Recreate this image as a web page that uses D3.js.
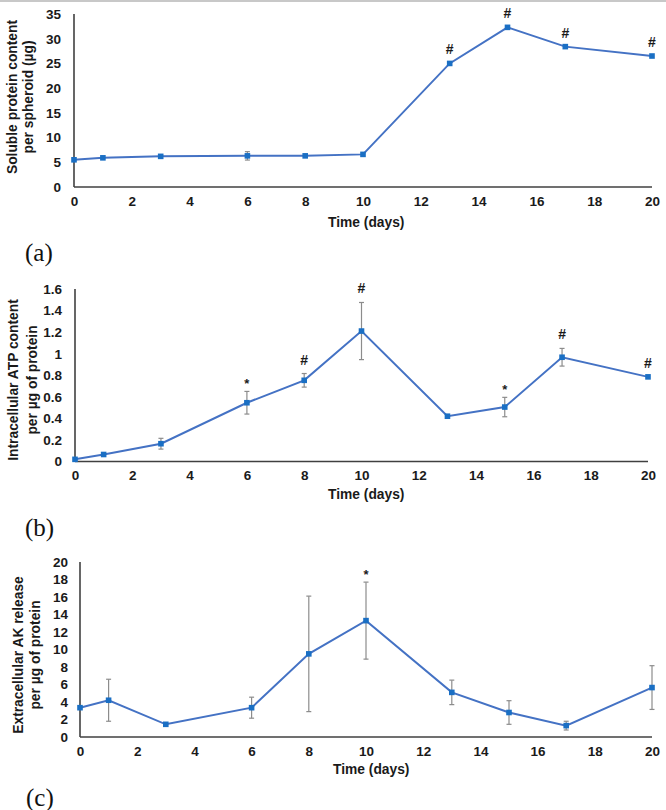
<!DOCTYPE html>
<html>
<head>
<meta charset="utf-8">
<script src="https://cdn.jsdelivr.net/npm/d3@7"></script>
<style>
  html, body { margin: 0; padding: 0; background: #fff; }
  svg { display: block; }
</style>
</head>
<body>
<svg id="chart" width="666" height="810"></svg>
<script>
// ---- data ----
const days = [0, 1, 3, 6, 8, 10, 13, 15, 17, 20];
const xTicks = [0, 2, 4, 6, 8, 10, 12, 14, 16, 18, 20];

const proteinMean = [5.5, 5.9, 6.2, 6.3, 6.3, 6.6, 25.0, 32.3, 28.4, 26.5];
const proteinErr  = [0, 0, 0, 0.85, 0, 0, 0, 0, 0, 0];
const proteinSig  = ["", "", "", "", "", "", "#", "#", "#", "#"];
const proteinTicks = [0, 5, 10, 15, 20, 25, 30, 35];

const atpMean = [0.02, 0.065, 0.165, 0.545, 0.753, 1.21, 0.42, 0.505, 0.967, 0.785];
const atpErr  = [0, 0, 0.05, 0.105, 0.063, 0.265, 0, 0.09, 0.082, 0];
const atpSig  = ["", "", "", "*", "#", "#", "", "*", "#", "#"];
const atpTicks = [0, 0.2, 0.4, 0.6, 0.8, 1, 1.2, 1.4, 1.6];

const akMean = [3.35, 4.2, 1.45, 3.35, 9.5, 13.3, 5.1, 2.8, 1.3, 5.65];
const akErr  = [0, 2.4, 0, 1.2, 6.6, 4.4, 1.4, 1.35, 0.5, 2.5];
const akSig  = ["", "", "", "", "", "*", "", "", "", ""];
const akTicks = [0, 2, 4, 6, 8, 10, 12, 14, 16, 18, 20];

const SANS = '"Liberation Sans", Arial, sans-serif';
const SERIF = '"Liberation Serif", "Times New Roman", serif';

const svg = d3.select("#chart");

// thin grey frame line at the top
svg.append("line").attr("x1", 0).attr("x2", 666).attr("y1", 1).attr("y2", 1)
  .attr("stroke", "#c8c8c8").attr("stroke-width", 2);

const panels = [
  { mean: proteinMean, err: proteinErr, sig: proteinSig, ticks: proteinTicks, ymax: 35,
    xr: [74, 652], yr: [187, 14], title: ["Soluble protein content", "per spheroid (µg)"],
    tx: [12, 28], tcy: 97, timeX: 328, timeY: 222, letter: "(a)", lx: 25, ly: 252 },
  { mean: atpMean, err: atpErr, sig: atpSig, ticks: atpTicks, ymax: 1.6,
    xr: [75, 648], yr: [461.5, 289], title: ["Intracellular ATP content", "per µg of protein"],
    tx: [13, 32], tcy: 380, timeX: 328, timeY: 494, letter: "(b)", lx: 25, ly: 527 },
  { mean: akMean, err: akErr, sig: akSig, ticks: akTicks, ymax: 20,
    xr: [80, 652], yr: [737, 562], title: ["Extracellular AK release", "per µg of protein"],
    tx: [18, 35], tcy: 655, timeX: 333, timeY: 769, letter: "(c)", lx: 26, ly: 797 }
];

const axisColor = "#404040";
const lineColor = "#4472C4";
const markColor = "#1a6fc4";
const errColor = "#8c8c8c";

panels.forEach(p => {
  const x = d3.scaleLinear().domain([0, 20]).range(p.xr);
  const y = d3.scaleLinear().domain([0, p.ymax]).range(p.yr);
  const g = svg.append("g");

  // x axis
  const xa = g.append("g").attr("transform", `translate(0,${p.yr[0]})`)
    .call(d3.axisBottom(x).tickValues(xTicks).tickSize(0).tickPadding(9).tickFormat(d3.format("d")));
  xa.select(".domain").attr("stroke", axisColor).attr("stroke-width", 1.6)
    .attr("d", `M${p.xr[0]},0H${p.xr[1]}`);
  xa.selectAll("text").style("font-size", "13.5px").style("font-weight", "bold").attr("fill", "#1a1a1a")
    .style("font-family", SANS);

  // y axis
  const ya = g.append("g").attr("transform", `translate(${p.xr[0]},0)`)
    .call(d3.axisLeft(y).tickValues(p.ticks).tickSize(0).tickPadding(p.xr[0] === 80 ? 12 : 13)
      .tickFormat(d => String(+d.toFixed(2))));
  ya.select(".domain").attr("stroke", axisColor).attr("stroke-width", 1.6)
    .attr("d", `M0,${p.yr[1]}V${p.yr[0]}`);
  ya.selectAll("text").style("font-size", "13.5px").style("font-weight", "bold").attr("fill", "#1a1a1a")
    .style("font-family", SANS);

  // y title
  p.title.forEach((t, i) => {
    g.append("text")
      .attr("transform", `translate(${p.tx[i]},${p.tcy}) rotate(-90)`)
      .attr("text-anchor", "middle").attr("dominant-baseline", "central")
      .style("font-family", SANS).style("font-size", "13.8px").style("font-weight", "bold")
      .attr("fill", "#1a1a1a")
      .text(t);
  });

  // x title
  g.append("text").attr("x", p.timeX).attr("y", p.timeY)
    .attr("dominant-baseline", "central")
    .style("font-family", SANS).style("font-size", "13.8px").style("font-weight", "bold")
    .attr("fill", "#1a1a1a")
    .text("Time (days)");

  // panel letter
  g.append("text").attr("x", p.lx).attr("y", p.ly)
    .attr("dominant-baseline", "central")
    .style("font-family", SERIF).style("font-size", "25px")
    .attr("fill", "#111")
    .text(p.letter);

  const pts = days.map((d, i) => ({ d, m: p.mean[i], e: p.err[i], s: p.sig[i] }));

  // error bars
  const eb = g.append("g").attr("stroke", errColor).attr("stroke-width", 1.2);
  pts.filter(q => q.e > 0).forEach(q => {
    const cx = x(q.d), y1 = y(q.m + q.e), y0 = y(q.m - q.e);
    eb.append("line").attr("x1", cx).attr("x2", cx).attr("y1", y1).attr("y2", y0);
    eb.append("line").attr("x1", cx - 2.5).attr("x2", cx + 2.5).attr("y1", y1).attr("y2", y1);
    eb.append("line").attr("x1", cx - 2.5).attr("x2", cx + 2.5).attr("y1", y0).attr("y2", y0);
  });

  // line
  g.append("path").datum(pts)
    .attr("fill", "none").attr("stroke", lineColor).attr("stroke-width", 2)
    .attr("d", d3.line().x(q => x(q.d)).y(q => y(q.m)));

  // markers
  g.selectAll("rect.mk").data(pts).enter().append("rect")
    .attr("x", q => x(q.d) - 2.8).attr("y", q => y(q.m) - 2.8)
    .attr("width", 5.6).attr("height", 5.6).attr("fill", markColor);

  // significance
  g.selectAll("text.sig").data(pts.filter(q => q.s)).enter().append("text")
    .attr("x", q => x(q.d)).attr("y", q => y(q.m + q.e) - (q.s === "#" ? 9 : 3))
    .attr("text-anchor", "middle")
    .style("font-family", SANS)
    .style("font-size", q => q.s === "#" ? "14px" : "13px").style("font-weight", "bold")
    .attr("fill", "#1a1a1a")
    .text(q => q.s);
});
</script>
</body>
</html>
